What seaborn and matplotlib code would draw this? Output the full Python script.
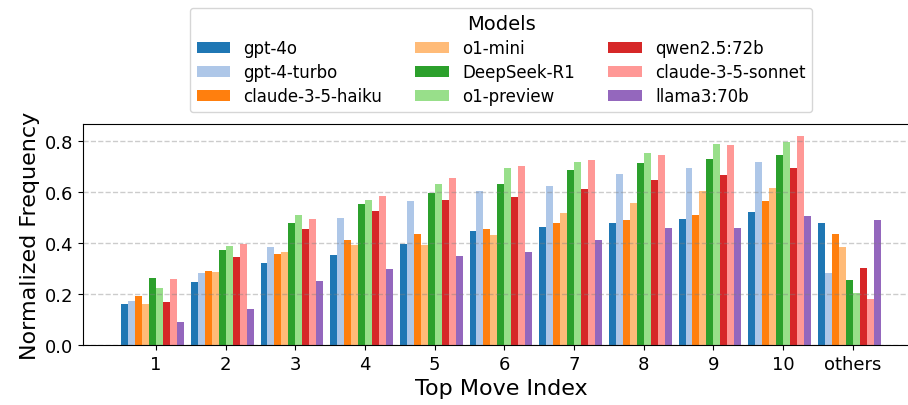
import numpy as np
import pandas as pd
import matplotlib
matplotlib.use("Agg")
import matplotlib.pyplot as plt
import seaborn as sns

categories = ["1", "2", "3", "4", "5", "6", "7", "8", "9", "10", "others"]
models = ["gpt-4o", "gpt-4-turbo", "claude-3-5-haiku", "o1-mini", "DeepSeek-R1",
          "o1-preview", "qwen2.5:72b", "claude-3-5-sonnet", "llama3:70b"]

gpt_4o = [0.161, 0.248, 0.322, 0.353, 0.396, 0.447, 0.463, 0.478, 0.494, 0.521, 0.478]
gpt_4_turbo = [0.173, 0.283, 0.384, 0.498, 0.564, 0.603, 0.623, 0.670, 0.693, 0.717, 0.283]
claude_haiku = [0.193, 0.291, 0.357, 0.412, 0.435, 0.455, 0.478, 0.490, 0.509, 0.564, 0.435]
o1_mini = [0.161, 0.287, 0.365, 0.392, 0.392, 0.431, 0.517, 0.556, 0.603, 0.615, 0.384]
deepseek_r1 = [0.263, 0.373, 0.478, 0.553, 0.595, 0.631, 0.685, 0.713, 0.728, 0.744, 0.255]
o1_preview = [0.224, 0.388, 0.509, 0.568, 0.631, 0.693, 0.717, 0.752, 0.787, 0.795, 0.205]
qwen = [0.169, 0.345, 0.455, 0.525, 0.568, 0.580, 0.611, 0.646, 0.666, 0.693, 0.302]
claude_sonnet = [0.259, 0.396, 0.494, 0.584, 0.654, 0.701, 0.725, 0.744, 0.783, 0.818, 0.181]
llama = [0.091, 0.142, 0.251, 0.298, 0.349, 0.365, 0.412, 0.459, 0.459, 0.506, 0.490]

series = [gpt_4o, gpt_4_turbo, claude_haiku, o1_mini, deepseek_r1,
          o1_preview, qwen, claude_sonnet, llama]
colors = ["#1f77b4", "#aec7e8", "#ff7f0e", "#ffbb78", "#2ca02c",
          "#98df8a", "#d62728", "#ff9896", "#9467bd"]

rows = []
for m, vals in zip(models, series):
    for c, v in zip(categories, vals):
        rows.append({"Top Move Index": c, "Model": m, "value": v})
df = pd.DataFrame(rows)

W, H = 908, 406
fig = plt.figure(figsize=(W / 100, H / 100), dpi=100)
left, right, top, bottom = 83.3, 918.7, 125, 346
ax = fig.add_axes([left / W, (H - bottom) / H, (right - left) / W, (bottom - top) / H])

sns.barplot(data=df, x="Top Move Index", y="value", hue="Model",
            order=categories, hue_order=models, palette=colors,
            width=0.9, saturation=1, errorbar=None, linewidth=0, ax=ax)

ax.set_xticks(np.arange(len(categories)) + 0.05)
ax.set_xticklabels(categories)
ax.set_xlim(-0.9935, 10.997)
ax.set_ylim(0, 0.865)
ax.set_yticks([0.0, 0.2, 0.4, 0.6, 0.8])
ax.set_yticklabels(["0.0", "0.2", "0.4", "0.6", "0.8"])
ax.tick_params(axis="both", labelsize=13)
ax.set_xlabel("Top Move Index", fontsize=16)
ax.set_ylabel("Normalized Frequency", fontsize=16)

ax.set_axisbelow(False)
ax.yaxis.grid(True, linestyle="--", color="gray", alpha=0.4, linewidth=1)
ax.xaxis.grid(False)

sns.move_legend(ax, "lower center", bbox_to_anchor=(0.5, 1.054), ncol=3,
                title="Models", fontsize=12, title_fontsize=14,
                frameon=True, columnspacing=2.0, borderaxespad=0,
                labelspacing=0.36)

fig.savefig("out.png", dpi=100)
